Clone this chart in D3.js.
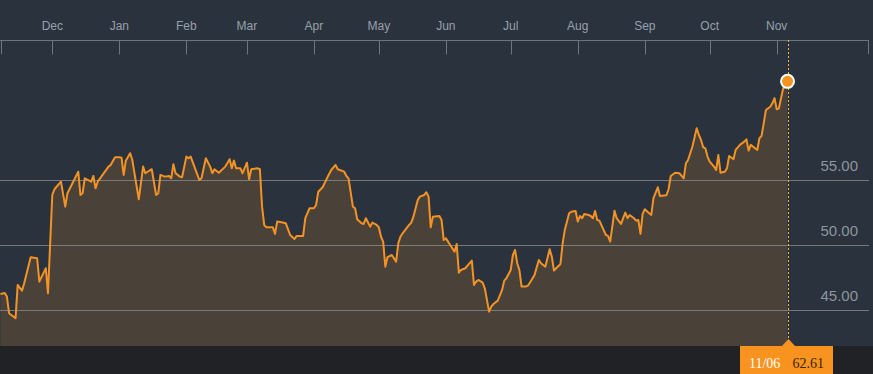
<!DOCTYPE html>
<html><head><meta charset="utf-8">
<script src="https://cdn.jsdelivr.net/npm/d3@7"></script>
<style>
html,body{margin:0;padding:0;background:#2a323e;overflow:hidden}
svg{display:block}
</style></head><body>
<svg id="c" width="873" height="374"></svg>
<script>
const dates = ["2016-11-07","2016-11-09","2016-11-10","2016-11-11","2016-11-14","2016-11-15","2016-11-17","2016-11-18","2016-11-21","2016-11-24","2016-11-25","2016-11-28","2016-11-29",
"2016-12-01","2016-12-02","2016-12-05","2016-12-07","2016-12-08","2016-12-13","2016-12-14","2016-12-15","2016-12-16","2016-12-19","2016-12-20","2016-12-21","2016-12-22","2016-12-27","2016-12-28","2016-12-30",
"2017-01-01","2017-01-02","2017-01-03","2017-01-04","2017-01-06","2017-01-07","2017-01-08","2017-01-10","2017-01-12","2017-01-13","2017-01-16","2017-01-18","2017-01-19","2017-01-20","2017-01-22","2017-01-24","2017-01-25","2017-01-26","2017-01-27","2017-01-29","2017-01-30",
"2017-02-01","2017-02-02","2017-02-03","2017-02-05","2017-02-07","2017-02-08","2017-02-10","2017-02-12","2017-02-13","2017-02-14","2017-02-16","2017-02-19","2017-02-21","2017-02-22","2017-02-23","2017-02-24","2017-02-26","2017-02-27",
"2017-03-01","2017-03-02","2017-03-03","2017-03-06","2017-03-07","2017-03-08","2017-03-09","2017-03-10","2017-03-13","2017-03-14","2017-03-15","2017-03-17","2017-03-19","2017-03-21","2017-03-23","2017-03-24","2017-03-27","2017-03-28","2017-03-30",
"2017-04-01","2017-04-02","2017-04-03","2017-04-05","2017-04-07","2017-04-09","2017-04-11","2017-04-12","2017-04-15","2017-04-16","2017-04-17","2017-04-19","2017-04-20","2017-04-21","2017-04-23","2017-04-24","2017-04-25","2017-04-27","2017-04-28","2017-04-30",
"2017-05-01","2017-05-02","2017-05-03","2017-05-04","2017-05-05","2017-05-07","2017-05-09","2017-05-10","2017-05-11","2017-05-12","2017-05-15","2017-05-16","2017-05-17","2017-05-19","2017-05-20","2017-05-22","2017-05-23","2017-05-24","2017-05-25","2017-05-26","2017-05-29","2017-05-30","2017-05-31",
"2017-06-01","2017-06-02","2017-06-03","2017-06-05","2017-06-06","2017-06-07","2017-06-08","2017-06-10","2017-06-12","2017-06-13","2017-06-14","2017-06-15","2017-06-16","2017-06-18","2017-06-19","2017-06-21","2017-06-22","2017-06-23","2017-06-25","2017-06-27","2017-06-28","2017-06-29",
"2017-07-01","2017-07-02","2017-07-03","2017-07-04","2017-07-05","2017-07-06","2017-07-08","2017-07-09","2017-07-10","2017-07-12","2017-07-14","2017-07-15","2017-07-17","2017-07-19","2017-07-20","2017-07-21","2017-07-22","2017-07-24","2017-07-25","2017-07-26","2017-07-28","2017-07-29","2017-07-31",
"2017-08-01","2017-08-02","2017-08-03","2017-08-04","2017-08-06","2017-08-07","2017-08-08","2017-08-09","2017-08-10","2017-08-11","2017-08-14","2017-08-15","2017-08-16","2017-08-18","2017-08-19","2017-08-21","2017-08-22","2017-08-23","2017-08-24","2017-08-25","2017-08-27","2017-08-28","2017-08-29","2017-08-30","2017-08-31",
"2017-09-01","2017-09-03","2017-09-04","2017-09-05","2017-09-07","2017-09-08","2017-09-11","2017-09-12","2017-09-13","2017-09-15","2017-09-17","2017-09-19","2017-09-20","2017-09-21","2017-09-23","2017-09-25","2017-09-26","2017-09-27","2017-09-28","2017-09-29","2017-09-30",
"2017-10-01","2017-10-03","2017-10-04","2017-10-05","2017-10-06","2017-10-08","2017-10-09","2017-10-10","2017-10-12","2017-10-13","2017-10-15","2017-10-17","2017-10-18","2017-10-19","2017-10-20","2017-10-22","2017-10-23","2017-10-24","2017-10-25","2017-10-26","2017-10-27","2017-10-29","2017-10-30","2017-10-31",
"2017-11-01","2017-11-02","2017-11-04","2017-11-06"];
const prices = [46.25,46.33,46.05,44.77,44.38,46.95,46.51,47.08,49.08,49.00,47.20,48.23,46.31,
53.87,54.31,54.89,52.97,54.00,55.66,53.87,54.00,55.15,54.89,55.33,54.38,54.89,56.05,56.18,56.77,
56.77,56.74,55.41,56.51,57.08,56.56,55.54,53.54,56.05,55.54,55.85,53.87,54.00,55.41,55.28,55.33,55.15,56.23,55.54,55.28,55.23,
56.82,56.69,56.82,55.92,55.02,55.15,56.69,56.05,55.54,55.85,55.58,56.05,56.62,55.92,56.51,55.92,55.92,55.54,
56.35,55.08,55.85,55.92,55.85,52.97,51.56,51.38,51.38,50.87,51.82,51.77,51.69,50.79,50.48,50.72,50.72,52.08,52.85,
52.85,53.10,54.12,54.46,55.15,55.79,56.18,55.85,55.66,55.33,55.15,52.97,52.85,52.00,51.69,51.64,52.08,51.43,51.74,51.56,
51.38,50.66,50.28,48.35,49.08,49.25,48.74,50.15,50.66,50.92,51.56,51.74,52.20,53.48,53.74,53.87,54.08,53.74,51.38,52.20,52.25,51.95,50.41,
50.54,50.28,50.02,49.51,50.10,47.89,48.10,48.23,48.62,48.82,46.95,47.20,47.33,47.12,46.69,44.89,45.28,45.48,45.74,46.56,47.28,47.46,
48.10,49.25,49.64,48.62,48.10,46.82,46.82,46.90,47.15,47.72,48.87,48.62,48.35,49.69,49.12,48.05,48.23,48.56,50.15,51.18,52.46,52.58,52.64,
51.82,52.25,52.08,52.41,52.33,52.25,52.08,52.64,51.95,51.89,50.79,50.72,50.28,52.66,52.08,51.64,52.08,52.51,52.08,52.33,52.08,51.89,51.95,50.87,52.41,
52.77,52.46,52.33,53.62,54.46,53.79,53.85,54.31,55.33,55.58,55.54,55.15,56.31,56.56,57.58,59.00,58.48,58.10,57.54,57.46,56.82,
56.43,56.05,55.79,56.95,55.58,55.66,55.92,56.87,56.62,57.33,57.72,57.97,58.15,57.28,57.72,57.46,57.33,58.23,58.41,59.38,60.41,60.66,60.92,61.31,
60.46,60.54,62.08,62.61];
const monthLabels = ["Dec","Jan","Feb","Mar","Apr","May","Jun","Jul","Aug","Sep","Oct","Nov"];
const monthStarts = ["2016-12-01","2017-01-01","2017-02-01","2017-03-01","2017-04-01","2017-05-01","2017-06-01","2017-07-01","2017-08-01","2017-09-01","2017-10-01","2017-11-01"];
const gridValues = [45, 50, 55];
const lastLabel = "11/06";

const parse = d3.timeParse("%Y-%m-%d");
const data = dates.map((d,i)=>({date:parse(d), v:prices[i]}));

const W = 873, H = 374, topY = 40, bottomY = 346, rightX = 869;
const x = d3.scaleTime().domain([parse("2016-11-07"), parse("2017-12-14")]).range([0.4, 869.7]);
const y = d3.scaleLinear().domain([42.25, 65.79]).range([bottomY, topY]);

const svg = d3.select("#c");
svg.append("rect").attr("x",0).attr("y",0).attr("width",W).attr("height",H).attr("fill","#2a323e");
svg.append("rect").attr("x",0).attr("y",bottomY).attr("width",W).attr("height",H-bottomY).attr("fill","#202226");

// area
svg.append("path").datum(data)
  .attr("d", d3.area().x(d=>x(d.date)).y0(bottomY).y1(d=>y(d.v)))
  .attr("fill","#4a4139");

// gridlines
svg.append("g").selectAll("line").data(gridValues).join("line")
  .attr("x1",0).attr("x2",rightX).attr("y1",d=>Math.round(y(d))+0.5).attr("y2",d=>Math.round(y(d))+0.5)
  .attr("stroke","#8d8f92").attr("stroke-opacity",0.75).attr("stroke-width",1);

svg.append("g").selectAll("text").data(gridValues).join("text")
  .attr("x",858).attr("y",d=>y(d)-9).attr("text-anchor","end")
  .attr("font-family","Liberation Sans, Arial, sans-serif").attr("font-size",15)
  .attr("fill","#8e959d").text(d=>d3.format(".2f")(d));

// top axis
const ms = monthStarts.map(parse);
const axis = d3.axisBottom(x).tickValues(ms).tickSize(14).tickFormat("");
const ag = svg.append("g").attr("transform",`translate(0,${topY})`).call(axis);
ag.select(".domain").attr("d",`M0,0.5H${rightX}`).attr("stroke","#6d7580");
ag.selectAll(".tick line").attr("stroke","#6d7580").attr("transform","translate(0,0.5)");
ag.selectAll(".tick").attr("transform", d=>`translate(${Math.round(x(d))+0.5},0)`);
svg.append("line").attr("x1",1.5).attr("x2",1.5).attr("y1",topY).attr("y2",topY+14).attr("stroke","#6d7580");
svg.append("line").attr("x1",868.5).attr("x2",868.5).attr("y1",topY).attr("y2",topY+14).attr("stroke","#6d7580");

svg.append("g").selectAll("text").data(ms).join("text")
  .attr("x",d=>x(d)).attr("y",29.5).attr("text-anchor","middle")
  .attr("font-family","Liberation Sans, Arial, sans-serif").attr("font-size",12)
  .attr("fill","#98a0a9").text((d,i)=>monthLabels[i]);

// line
svg.append("path").datum(data)
  .attr("d", d3.line().x(d=>x(d.date)).y(d=>y(d.v)))
  .attr("fill","none").attr("stroke","#f39325").attr("stroke-width",2).attr("stroke-linejoin","round");

const last = data[data.length-1];
const lx = Math.round(x(last.date))+0.5;
// dotted line
svg.append("line").attr("x1",lx).attr("x2",lx).attr("y1",topY).attr("y2",340)
  .attr("stroke","#f2b43c").attr("stroke-width",1).attr("stroke-dasharray","2,2");

// marker
svg.append("circle").attr("cx",x(last.date)).attr("cy",y(last.v)).attr("r",6.5)
  .attr("fill","#f7931e").attr("stroke","#ffffff").attr("stroke-width",2);

// bottom label
const g = svg.append("g");
g.append("rect").attr("x",740).attr("y",bottomY).attr("width",93).attr("height",H-bottomY).attr("fill","#f7931e");
g.append("path").attr("d",`M${lx-7},${bottomY+0.5}L${lx},339L${lx+7},${bottomY+0.5}Z`).attr("fill","#f7931e");
g.append("text").attr("x",749).attr("y",367.5).attr("font-family","Liberation Serif, Times New Roman, serif")
  .attr("font-size",14).attr("fill","#ffffff").text(lastLabel);
g.append("text").attr("x",792.5).attr("y",367.5).attr("font-family","Liberation Serif, Times New Roman, serif")
  .attr("font-size",14).attr("fill","#3a2410").text(d3.format(".2f")(last.v));
</script></body></html>
